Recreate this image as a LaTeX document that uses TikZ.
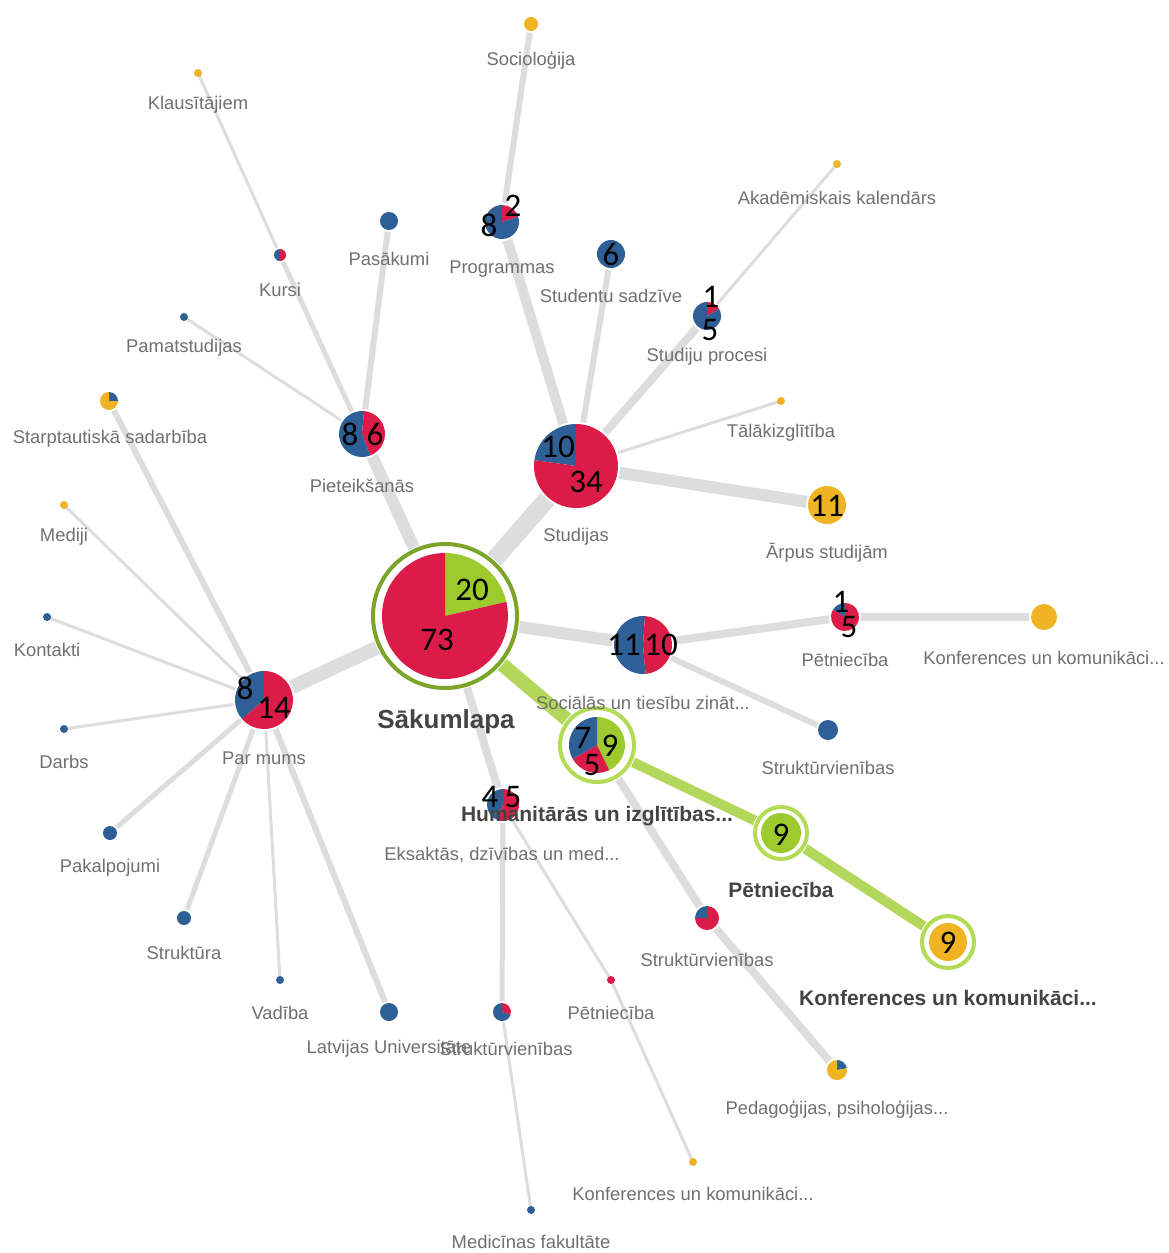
\documentclass[tikz,border=0pt]{standalone}
\usepackage{fontspec}
\setmainfont{Liberation Sans}
\newfontfamily\numfont{Carlito}
\definecolor{cRed}{HTML}{DC1C48}
\definecolor{cBlue}{HTML}{2F5F97}
\definecolor{cOrange}{HTML}{F0B323}
\definecolor{cGreen}{HTML}{9DCB2E}
\definecolor{cRing}{HTML}{7BA428}
\definecolor{cRingLight}{HTML}{B3DB55}
\definecolor{cEdge}{HTML}{DDDDDD}
\definecolor{cPath}{HTML}{B2D75A}
\definecolor{cText}{HTML}{707070}
\definecolor{cBold}{HTML}{444444}
% one wedge of a pie: colour, centre, start angle, end angle, radius
\newcommand{\pieslice}[5]{\fill[#1] (#2.center) -- ++(#3:#5) arc[start angle=#3, end angle=#4, radius=#5] -- cycle;}
% white halo under every pie
\newcommand{\halo}[2]{\fill[white] (#1.center) circle[radius=#2+2];}
% a plain one-colour disc
\newcommand{\disc}[3]{\fill[#1] (#2.center) circle[radius=#3];}
\begin{document}
\begin{tikzpicture}[x=1pt,y=1pt,
  edge/.style={draw=cEdge, line cap=butt},
  hl/.style={draw=cPath, line cap=butt},
  lbl/.style={text=cText, font=\fontsize{18.4}{20}\selectfont, inner sep=0pt},
  blbl/.style={text=cBold, font=\fontsize{21}{23}\selectfont\bfseries, inner sep=0pt},
  num/.style={text=black, font=\numfont\fontsize{33}{34}\selectfont, inner sep=0pt},
  dot/.style={circle, inner sep=0pt, minimum size=#1}]
\useasboundingbox (0,0) rectangle (1169,-1253);
\fill[white] (0,0) rectangle (1169,-1253);

% node positions
\node[dot=126] (home) at (445,-616) {};
\node[dot=84] (stud) at (576,-466) {};
\node[dot=46] (piet) at (362,-434) {};
\node[dot=58] (par) at (264,-700) {};
\node[dot=58] (soc) at (643,-645) {};
\node[dot=56] (hum) at (597,-745) {};
\node[dot=32] (eks) at (503,-805) {};
\node[dot=40] (petg) at (781,-833) {};
\node[dot=38] (konfg) at (948,-942) {};
\node[dot=28] (proc) at (707,-316) {};
\node[dot=28] (sadz) at (611,-254) {};
\node[dot=34] (prog) at (502,-222) {};
\node[dot=14] (sociol) at (531,-24) {};
\node[dot=8] (akad) at (837,-164) {};
\node[dot=8] (talak) at (781,-401) {};
\node[dot=38] (arpus) at (827,-505) {};
\node[dot=18] (pas) at (389,-221) {};
\node[dot=12] (kursi) at (280,-255) {};
\node[dot=8] (klaus) at (198,-73) {};
\node[dot=8] (pamat) at (184,-317) {};
\node[dot=18] (starpt) at (109,-401) {};
\node[dot=8] (medij) at (64,-505) {};
\node[dot=8] (kont) at (47,-617) {};
\node[dot=8] (darbs) at (64,-729) {};
\node[dot=14] (pakal) at (110,-833) {};
\node[dot=14] (strukt) at (184,-918) {};
\node[dot=8] (vad) at (280,-980) {};
\node[dot=18] (lu) at (389,-1012) {};
\node[dot=18] (strm) at (502,-1012) {};
\node[dot=8] (petm) at (611,-980) {};
\node[dot=8] (konfb) at (693,-1162) {};
\node[dot=8] (med) at (531,-1210) {};
\node[dot=24] (strh) at (707,-918) {};
\node[dot=20] (ped) at (837,-1070) {};
\node[dot=28] (petr) at (845,-617) {};
\node[dot=26] (konfr) at (1044,-617) {};
\node[dot=20] (strr) at (828,-730) {};

% connectors
\draw[edge, line width=18] (home.center) -- (stud.center);
\draw[edge, line width=12] (home.center) -- (piet.center);
\draw[edge, line width=14] (home.center) -- (par.center);
\draw[edge, line width=12] (home.center) -- (soc.center);
\draw[edge, line width=8] (home.center) -- (eks.center);
\draw[edge, line width=8] (hum.center) -- (strh.center);
\draw[edge, line width=8] (strh.center) -- (ped.center);
\draw[edge, line width=5] (eks.center) -- (strm.center);
\draw[edge, line width=3] (strm.center) -- (med.center);
\draw[edge, line width=3] (eks.center) -- (petm.center);
\draw[edge, line width=3] (petm.center) -- (konfb.center);
\draw[edge, line width=10] (stud.center) -- (prog.center);
\draw[edge, line width=6] (prog.center) -- (sociol.center);
\draw[edge, line width=6] (stud.center) -- (sadz.center);
\draw[edge, line width=8] (stud.center) -- (proc.center);
\draw[edge, line width=3] (proc.center) -- (akad.center);
\draw[edge, line width=3] (stud.center) -- (talak.center);
\draw[edge, line width=12] (stud.center) -- (arpus.center);
\draw[edge, line width=6] (piet.center) -- (pas.center);
\draw[edge, line width=5] (piet.center) -- (kursi.center);
\draw[edge, line width=3] (kursi.center) -- (klaus.center);
\draw[edge, line width=3] (piet.center) -- (pamat.center);
\draw[edge, line width=6] (par.center) -- (starpt.center);
\draw[edge, line width=3] (par.center) -- (medij.center);
\draw[edge, line width=3] (par.center) -- (kont.center);
\draw[edge, line width=3] (par.center) -- (darbs.center);
\draw[edge, line width=5] (par.center) -- (pakal.center);
\draw[edge, line width=5] (par.center) -- (strukt.center);
\draw[edge, line width=3] (par.center) -- (vad.center);
\draw[edge, line width=6] (par.center) -- (lu.center);
\draw[edge, line width=8] (soc.center) -- (petr.center);
\draw[edge, line width=8] (petr.center) -- (konfr.center);
\draw[edge, line width=6] (soc.center) -- (strr.center);
% highlighted path
\draw[hl, line width=14] (home.center) -- (hum.center);
\draw[hl, line width=10] (hum.center) -- (petg.center);
\draw[hl, line width=10] (petg.center) -- (konfg.center);

% home
\fill[white] (home.center) circle[radius=75];
\draw[cRing, line width=4] (home.center) circle[radius=72];
\pieslice{cGreen}{home}{13}{90}{63}
\pieslice{cRed}{home}{90}{373}{63}

% highlighted nodes
\fill[white] (hum.center) circle[radius=40];
\draw[cRingLight, line width=4] (hum.center) circle[radius=37];
\pieslice{cGreen}{hum}{-64}{90}{28}
\pieslice{cRed}{hum}{-150}{-64}{28}
\pieslice{cBlue}{hum}{90}{210}{28}
\fill[white] (petg.center) circle[radius=29];
\draw[cRingLight, line width=4] (petg.center) circle[radius=26];
\disc{cGreen}{petg}{20}
\fill[white] (konfg.center) circle[radius=29];
\draw[cRingLight, line width=4] (konfg.center) circle[radius=26];
\disc{cOrange}{konfg}{19}

% pies
\halo{stud}{42}
\pieslice{cBlue}{stud}{90}{172}{42}
\pieslice{cRed}{stud}{172}{450}{42}
\halo{piet}{23}
\pieslice{cRed}{piet}{-69}{85}{23}
\pieslice{cBlue}{piet}{85}{291}{23}
\halo{par}{29}
\pieslice{cBlue}{par}{90}{221}{29}
\pieslice{cRed}{par}{221}{450}{29}
\halo{soc}{29}
\pieslice{cBlue}{soc}{86}{275}{29}
\pieslice{cRed}{soc}{275}{446}{29}
\halo{eks}{16}
\pieslice{cBlue}{eks}{90}{250}{16}
\pieslice{cRed}{eks}{250}{450}{16}
\halo{proc}{14}
\pieslice{cRed}{proc}{30}{90}{14}
\pieslice{cBlue}{proc}{90}{390}{14}
\halo{sadz}{14}
\disc{cBlue}{sadz}{14}
\halo{prog}{17}
\pieslice{cRed}{prog}{18}{90}{17}
\pieslice{cBlue}{prog}{90}{378}{17}
\halo{sociol}{7}
\disc{cOrange}{sociol}{7}
\disc{cOrange}{akad}{4}
\disc{cOrange}{talak}{4}
\halo{arpus}{19}
\disc{cOrange}{arpus}{19}
\halo{pas}{9}
\disc{cBlue}{pas}{9}
\halo{kursi}{6}
\pieslice{cRed}{kursi}{-90}{90}{6}
\pieslice{cBlue}{kursi}{90}{270}{6}
\disc{cOrange}{klaus}{4}
\disc{cBlue}{pamat}{4}
\halo{starpt}{9}
\pieslice{cBlue}{starpt}{0}{90}{9}
\pieslice{cOrange}{starpt}{90}{360}{9}
\disc{cOrange}{medij}{4}
\disc{cBlue}{kont}{4}
\disc{cBlue}{darbs}{4}
\halo{pakal}{7}
\disc{cBlue}{pakal}{7}
\halo{strukt}{7}
\disc{cBlue}{strukt}{7}
\disc{cBlue}{vad}{4}
\halo{lu}{9}
\disc{cBlue}{lu}{9}
\halo{strm}{9}
\pieslice{cRed}{strm}{-20}{90}{9}
\pieslice{cBlue}{strm}{90}{340}{9}
\disc{cRed}{petm}{4}
\disc{cOrange}{konfb}{4}
\disc{cBlue}{med}{4}
\halo{strh}{12}
\pieslice{cBlue}{strh}{90}{180}{12}
\pieslice{cRed}{strh}{180}{450}{12}
\halo{ped}{10}
\pieslice{cBlue}{ped}{10}{90}{10}
\pieslice{cOrange}{ped}{90}{370}{10}
\halo{petr}{14}
\pieslice{cBlue}{petr}{90}{150}{14}
\pieslice{cRed}{petr}{150}{450}{14}
\halo{konfr}{13}
\disc{cOrange}{konfr}{13}
\halo{strr}{10}
\disc{cBlue}{strr}{10}

% page names
\node[lbl] (t-sociol) at (531,-60) {Socioloģija};
\node[lbl] (t-klaus) at (198,-105) {Klausītājiem};
\node[lbl] (t-akad) at (837,-198) {Akadēmiskais kalendārs};
\node[lbl] (t-pas) at (389,-259) {Pasākumi};
\node[lbl] (t-prog) at (502,-269) {Programmas};
\node[lbl] (t-kursi) at (280,-290) {Kursi};
\node[lbl] (t-sadz) at (611,-296) {Studentu sadzīve};
\node[lbl] (t-pamat) at (184,-348) {Pamatstudijas};
\node[lbl] (t-proc) at (707,-357) {Studiju procesi};
\node[lbl] (t-starpt) at (110,-439) {Starptautiskā sadarbība};
\node[lbl] (t-talak) at (781,-433) {Tālākizglītība};
\node[lbl] (t-piet) at (362,-486) {Pieteikšanās};
\node[lbl] (t-medij) at (64,-537) {Mediji};
\node[lbl] (t-stud) at (576,-537) {Studijas};
\node[lbl] (t-arpus) at (827,-553) {Ārpus studijām};
\node[lbl] (t-kont) at (47,-650) {Kontakti};
\node[lbl] (t-petr) at (845,-660) {Pētniecība};
\node[lbl] (t-konfr) at (1044,-658) {Konferences un komunikāci...};
\node[lbl] (t-soc) at (643,-703) {Sociālās un tiesību zināt...};
\node[lbl] (t-par) at (264,-758) {Par mums};
\node[lbl] (t-darbs) at (64,-762) {Darbs};
\node[lbl] (t-strr) at (828,-768) {Struktūrvienības};
\node[lbl] (t-eks) at (502,-855) {Eksaktās, dzīvības un med...};
\node[lbl] (t-pakal) at (110,-868) {Pakalpojumi};
\node[lbl] (t-strukt) at (184,-953) {Struktūra};
\node[lbl] (t-strh) at (707,-960) {Struktūrvienības};
\node[lbl] (t-vad) at (280,-1013) {Vadība};
\node[lbl] (t-petm) at (611,-1013) {Pētniecība};
\node[lbl] (t-lu) at (389,-1049) {Latvijas Universitāte};
\node[lbl] (t-strm) at (506,-1049) {Struktūrvienības};
\node[lbl] (t-ped) at (837,-1109) {Pedagoģijas, psiholoģijas...};
\node[lbl] (t-konfb) at (693,-1194) {Konferences un komunikāci...};
\node[lbl] (t-med) at (531,-1242) {Medicīnas fakultāte};
\node[text=cBold, font=\fontsize{26}{28}\selectfont\bfseries, inner sep=0pt] (t-home) at (446,-722) {Sākumlapa};
\node[blbl] (t-hum) at (597,-816) {Humanitārās un izglītības...};
\node[blbl] (t-petg) at (781,-890) {Pētniecība};
\node[blbl] (t-konfg) at (948,-998) {Konferences un komunikāci...};

% visit counts
\node[num] at (472,-590) {20};
\node[num] at (437,-640) {73};
\node[num] at (558,-447) {10};
\node[num] at (586,-482) {34};
\node[num] at (350,-434) {8};
\node[num] at (375,-434) {6};
\node[num] at (245,-688) {8};
\node[num] at (274,-708) {14};
\node[num] at (624,-645) {11};
\node[num] at (661,-645) {10};
\node[num] at (583,-738) {7};
\node[num] at (610,-746) {9};
\node[num] at (592,-765) {5};
\node[num] at (490,-797) {4};
\node[num] at (513,-797) {5};
\node[num] at (781,-835) {9};
\node[num] at (948,-943) {9};
\node[num] at (711,-297) {1};
\node[num] at (710,-330) {5};
\node[num] at (611,-254) {6};
\node[num] at (489,-225) {8};
\node[num] at (513,-206) {2};
\node[num] at (827,-506) {11};
\node[num] at (841,-602) {1};
\node[num] at (849,-627) {5};
\end{tikzpicture}
\end{document}
